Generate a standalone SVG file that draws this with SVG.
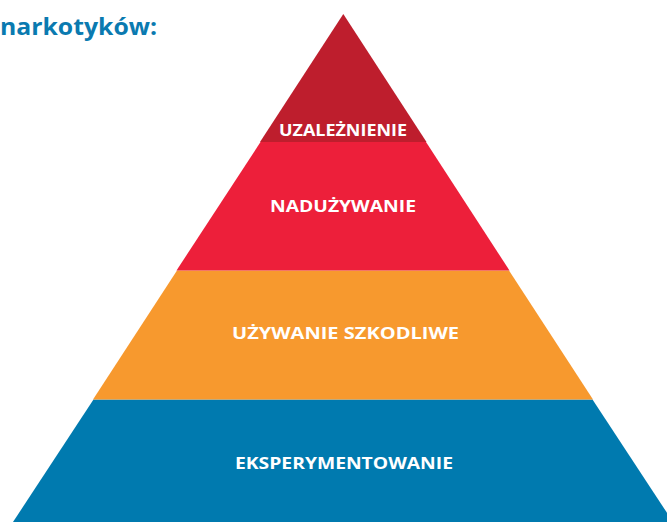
<svg xmlns="http://www.w3.org/2000/svg" width="667" height="522" viewBox="0 0 667 522">
  <style>
    .lbl { font-family: "Open Sans", "Liberation Sans", sans-serif; font-weight: 700; font-size: 15.5px; fill: #ffffff; }
    .title { font-family: "Open Sans", "Liberation Sans", sans-serif; font-weight: 700; font-size: 24px; fill: #0a7ab0; }
  </style>
  <rect width="667" height="522" fill="#ffffff"/>
  <text class="title" x="0" y="35" textLength="157" lengthAdjust="spacingAndGlyphs">narkotyków:</text>

  <g id="level-experimenting">
    <polygon points="93.5,399.5 592.5,399.5 673,522 13,522" fill="#007aaf"/>
    <text class="lbl" x="235" y="469" textLength="218" lengthAdjust="spacingAndGlyphs">EKSPERYMENTOWANIE</text>
  </g>
  <g id="level-harmful-use">
    <polygon points="177,270.5 509,270.5 593,399.5 93,399.5" fill="#f7992e"/>
    <text class="lbl" x="232" y="339" textLength="227" lengthAdjust="spacingAndGlyphs">UŻYWANIE SZKODLIWE</text>
  </g>
  <g id="level-abuse">
    <polygon points="260.5,142 426,142 509.5,270.5 176.5,270.5" fill="#ed1f3a"/>
    <text class="lbl" x="270" y="212" textLength="146" lengthAdjust="spacingAndGlyphs">NADUŻYWANIE</text>
  </g>
  <g id="level-addiction">
    <polygon points="343.3,14 426.5,142 260,142" fill="#be1e2d"/>
    <text class="lbl" x="279" y="136" textLength="128" lengthAdjust="spacingAndGlyphs">UZALEŻNIENIE</text>
  </g>
</svg>
